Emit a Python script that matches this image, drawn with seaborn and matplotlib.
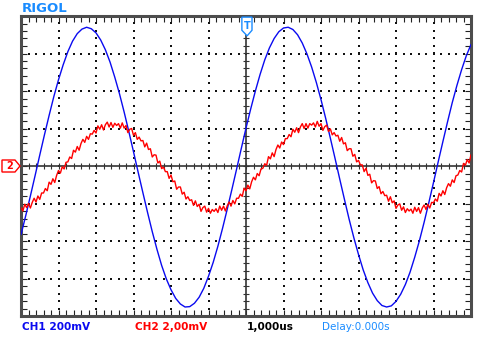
import numpy as np
import pandas as pd
import matplotlib
matplotlib.use("Agg")
import matplotlib.pyplot as plt
import seaborn as sns
from matplotlib.patches import Polygon
from matplotlib.ticker import MultipleLocator, NullFormatter

# ---- data (time in us from left edge, voltage in divisions) ----
blue_t = np.linspace(0, 12, 97)
blue_v = [-1.83, -1.33, -0.80, -0.26, 0.29, 0.83, 1.35, 1.85, 2.30, 2.70, 3.05, 3.33,
          3.53, 3.65, 3.70, 3.66, 3.55, 3.36, 3.10, 2.77, 2.37, 1.93, 1.44, 0.92,
          0.38, -0.17, -0.71, -1.24, -1.75, -2.22, -2.65, -3.01, -3.30, -3.53,
          -3.68, -3.76, -3.75, -3.66, -3.50, -3.26, -2.94, -2.57, -2.14, -1.66,
          -1.15, -0.62, -0.08, 0.47, 1.01, 1.52, 2.00, 2.44, 2.83, 3.15, 3.40,
          3.58, 3.68, 3.70, 3.64, 3.50, 3.28, 2.99, 2.64, 2.23, 1.77, 1.27, 0.74,
          0.20, -0.35, -0.89, -1.42, -1.91, -2.36, -2.77, -3.11, -3.39, -3.59,
          -3.72, -3.76, -3.73, -3.61, -3.42, -3.16, -2.83, -2.43, -1.99, -1.50,
          -0.98, -0.44, 0.11, 0.65, 1.18, 1.69, 2.15, 2.57, 2.94, 3.24]

red_t = np.linspace(0, 12, 241)
red_v = [
    -1.11, -1.20, -1.02, -1.11, -1.00, -1.12, -0.97, -0.86, -0.96, -0.80,
    -0.89, -0.72, -0.72, -0.60, -0.66, -0.43, -0.49, -0.34, -0.44, -0.25,
    -0.12, -0.19, -0.02, -0.08, 0.10, 0.11, 0.24, 0.20, 0.42, 0.37,
    0.52, 0.42, 0.60, 0.71, 0.63, 0.79, 0.71, 0.86, 0.85, 0.95,
    0.88, 1.07, 0.98, 1.10, 0.96, 1.10, 1.17, 1.04, 1.16, 1.03,
    1.14, 1.08, 1.13, 1.01, 1.15, 1.01, 1.08, 0.89, 0.98, 1.00,
    0.82, 0.89, 0.71, 0.77, 0.67, 0.68, 0.51, 0.61, 0.44, 0.46,
    0.24, 0.30, 0.29, 0.08, 0.13, -0.07, -0.03, -0.15, -0.15, -0.33,
    -0.24, -0.42, -0.40, -0.62, -0.56, -0.56, -0.75, -0.70, -0.88, -0.82,
    -0.92, -0.90, -1.05, -0.93, -1.08, -1.02, -1.21, -1.11, -1.07, -1.23,
    -1.13, -1.26, -1.16, -1.21, -1.14, -1.24, -1.07, -1.18, -1.07, -1.20,
    -1.06, -0.96, -1.07, -0.92, -1.01, -0.86, -0.86, -0.75, -0.81, -0.59,
    -0.66, -0.51, -0.61, -0.42, -0.30, -0.37, -0.20, -0.26, -0.08, -0.06,
    0.06, 0.02, 0.25, 0.19, 0.35, 0.25, 0.44, 0.56, 0.48, 0.64,
    0.57, 0.73, 0.73, 0.84, 0.78, 0.98, 0.90, 1.02, 0.89, 1.04,
    1.13, 1.00, 1.13, 1.01, 1.13, 1.09, 1.15, 1.04, 1.19, 1.06,
    1.13, 0.95, 1.05, 1.09, 0.92, 0.99, 0.83, 0.89, 0.80, 0.82,
    0.66, 0.76, 0.59, 0.62, 0.41, 0.46, 0.46, 0.26, 0.31, 0.11,
    0.15, 0.03, 0.03, -0.15, -0.06, -0.25, -0.22, -0.45, -0.39, -0.40,
    -0.60, -0.55, -0.74, -0.68, -0.79, -0.78, -0.94, -0.82, -0.98, -0.93,
    -1.13, -1.04, -1.01, -1.18, -1.09, -1.24, -1.14, -1.20, -1.15, -1.26,
    -1.10, -1.21, -1.11, -1.26, -1.12, -1.04, -1.16, -1.02, -1.12, -0.97,
    -0.98, -0.88, -0.94, -0.73, -0.80, -0.66, -0.76, -0.58, -0.47, -0.54,
    -0.37, -0.44, -0.26, -0.24, -0.12, -0.16, 0.07, 0.02, 0.17, 0.08,
    0.30]

title_text = "RIGOL"
ch1_label = "CH1 200mV"
ch2_label = "CH2 2,00mV"
time_label = "1,000us"
delay_label = "Delay:0.000s"

# ---- style ----
sns.set_theme(style="white")
plt.rcParams["font.family"] = ["DejaVu Sans"]

W, H = 483, 342
fig = plt.figure(figsize=(W / 100, H / 100), dpi=100)
fig.patch.set_facecolor("white")
ax = fig.add_axes([21 / W, (H - 316) / H, 450 / W, 300 / H])
ax.set_facecolor("white")
ax.set_xlim(0, 12)
ax.set_ylim(-4, 4)

# dotted graticule
gx, gy = [], []
for xv in range(1, 12):
    if xv == 6:
        continue
    for yv in np.arange(-4, 4.001, 0.2):
        gx.append(xv); gy.append(yv)
for yv in range(-3, 4):
    if yv == 0:
        continue
    for xv in np.arange(0, 12.001, 0.2):
        gx.append(xv); gy.append(yv)
ax.scatter(gx, gy, s=0.55, marker="s", c="#111111", linewidths=0, zorder=1)

# center cross with ticks
ax.axhline(0, color="#333333", lw=1.2, zorder=1)
ax.axvline(6, color="#333333", lw=1.2, zorder=1)
ax.vlines(np.arange(0, 12.001, 0.2), -0.07, 0.07, color="#333333", lw=0.8, zorder=1)
ax.hlines(np.arange(-4, 4.001, 0.2), 5.93, 6.07, color="#333333", lw=0.8, zorder=1)

# traces
df_b = pd.DataFrame({"t": blue_t, "v": blue_v})
df_r = pd.DataFrame({"t": red_t, "v": red_v})
sns.lineplot(data=df_b, x="t", y="v", ax=ax, color="#0a0af0", lw=1.0,
             estimator=None, sort=False, zorder=3)
sns.lineplot(data=df_r, x="t", y="v", ax=ax, color="#ff0000", lw=1.0,
             estimator=None, sort=False, zorder=4)
ax.set_xlim(0, 12)
ax.set_ylim(-4, 4)
ax.set_xlabel("")
ax.set_ylabel("")

# border and inward ticks
for s in ax.spines.values():
    s.set_visible(True)
    s.set_color("#4d4d4d")
    s.set_linewidth(2.2)
ax.xaxis.set_major_locator(MultipleLocator(1))
ax.xaxis.set_minor_locator(MultipleLocator(0.2))
ax.yaxis.set_major_locator(MultipleLocator(1))
ax.yaxis.set_minor_locator(MultipleLocator(0.2))
ax.tick_params(which="both", direction="in", length=4.0, width=0.8, color="#222222",
               top=True, right=True, bottom=True, left=True,
               labelbottom=False, labelleft=False)
ax.xaxis.set_major_formatter(NullFormatter())
ax.yaxis.set_major_formatter(NullFormatter())

# trigger position marker (top)
tp = Polygon([(5.89, 3.97), (6.16, 3.97), (6.16, 3.62), (6.03, 3.47), (5.89, 3.62)],
             closed=True, facecolor="white", edgecolor="#1a8cff", lw=1.0, zorder=6)
ax.add_patch(tp)
ax.text(6.025, 3.74, "T", color="#1a8cff", fontsize=7, fontweight="bold",
        ha="center", va="center", zorder=7)

# channel 2 ground marker (left)
gm = Polygon([(-0.507, 0.16), (-0.16, 0.16), (-0.027, 0.0), (-0.16, -0.16), (-0.507, -0.16)],
             closed=True, facecolor="white", edgecolor="#ff0000", lw=1.0,
             zorder=6, clip_on=False)
ax.add_patch(gm)
ax.text(-0.30, 0.0, "2", color="#ff0000", fontsize=7, fontweight="bold",
        ha="center", va="center", zorder=7, clip_on=False)

# texts
def px(x, y):
    return x / W, 1 - y / H

fig.text(*px(22, 8.5), title_text, color="#1a8cff", fontsize=9.5,
         fontweight="bold", ha="left", va="center")
fig.text(*px(22, 327), ch1_label, color="#0a0af0", fontsize=7.6,
         fontweight="bold", ha="left", va="center")
fig.text(*px(135, 327), ch2_label, color="#ff0000", fontsize=7.6,
         fontweight="bold", ha="left", va="center")
fig.text(*px(247, 327), time_label, color="black", fontsize=7.6,
         fontweight="bold", ha="left", va="center")
fig.text(*px(322, 327), delay_label, color="#1a8cff", fontsize=7.5,
         ha="left", va="center")

fig.savefig("out.png", dpi=100, facecolor="white")
